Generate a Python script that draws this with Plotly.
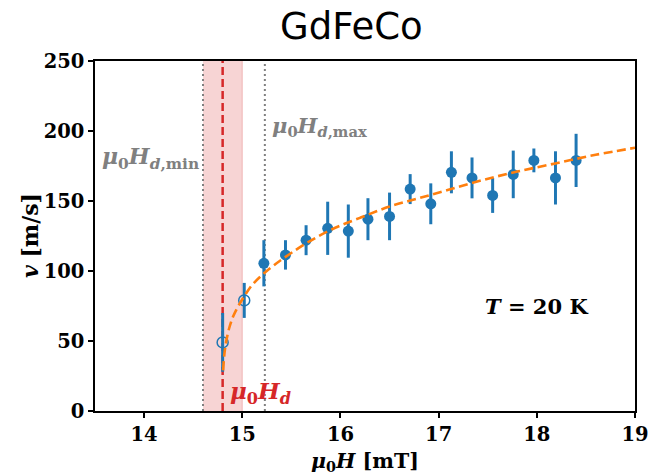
import plotly.graph_objects as go

# ---- data ----
h_filled = [15.22, 15.44, 15.65, 15.87, 16.08, 16.28, 16.50, 16.71, 16.92, 17.13,
            17.34, 17.55, 17.76, 17.97, 18.19, 18.40]
v_filled = [105.5, 111.5, 122.0, 130.5, 128.5, 137.0, 139.0, 158.5, 148.0, 170.5,
            166.5, 154.0, 169.0, 179.0, 166.5, 179.0]
e_filled = [16.5, 10.5, 10.7, 19.0, 19.0, 15.0, 17.0, 10.7, 14.6, 15.0,
            14.6, 12.5, 17.0, 8.5, 19.0, 19.0]

h_open = [14.80, 15.02]
v_open = [49.0, 79.0]
e_open = [21.0, 12.5]

fit_h = [14.805, 14.82, 14.84, 14.87, 14.91, 14.96, 15.02, 15.10, 15.20, 15.32, 15.48,
         15.68, 15.92, 16.20, 16.50, 16.80, 17.10, 17.45, 17.80, 18.20, 18.60, 19.00]
fit_v = [29, 42, 51, 60, 68, 75, 82, 90, 97, 104, 112,
         121, 130, 138, 146, 152, 158, 165, 171, 177, 183, 188]

hd = 14.8
hd_band = [14.6, 15.0]
hd_min = 14.6
hd_max = 15.23

x_ticks = [14, 15, 16, 17, 18, 19]
y_ticks = [0, 50, 100, 150, 200, 250]

BLUE = "#1f77b4"
ORANGE = "#ff7f0e"
RED = "#d62728"
GRAY = "#808080"
SERIF = "DejaVu Serif"

W, H = 648, 476
L, R, T, B = 95, 13, 61, 65
PW, PH = W - L - R, H - T - B

fig = go.Figure()

fig.add_trace(go.Scatter(
    x=h_filled, y=v_filled, mode="markers",
    marker=dict(color=BLUE, size=11),
    error_y=dict(type="data", array=e_filled, color=BLUE, thickness=3, width=0),
    showlegend=False))

fig.add_trace(go.Scatter(
    x=h_open, y=v_open, mode="markers",
    marker=dict(color=BLUE, size=11, symbol="circle-open", line=dict(width=1.5)),
    error_y=dict(type="data", array=e_open, color=BLUE, thickness=3, width=0),
    showlegend=False))

fig.add_trace(go.Scatter(
    x=fit_h, y=fit_v, mode="lines",
    line=dict(color=ORANGE, width=2.6, dash="9px,4.5px", shape="spline"),
    showlegend=False))

# band and vertical lines
fig.add_shape(type="rect", xref="x", yref="paper", x0=hd_band[0], x1=hd_band[1], y0=0, y1=1,
              fillcolor="rgba(214,39,40,0.2)", line=dict(width=0), layer="below")
fig.add_shape(type="line", xref="x", yref="paper", x0=hd_band[1], x1=hd_band[1], y0=0, y1=1,
              line=dict(color="rgba(214,39,40,0.25)", width=1), layer="below")
fig.add_shape(type="line", xref="x", yref="paper", x0=hd_min, x1=hd_min, y0=0, y1=1,
              line=dict(color=GRAY, width=2, dash="2px,3px"), layer="below")
fig.add_shape(type="line", xref="x", yref="paper", x0=hd_max, x1=hd_max, y0=0, y1=1,
              line=dict(color=GRAY, width=2, dash="2px,3px"), layer="below")
fig.add_shape(type="line", xref="x", yref="paper", x0=hd, x1=hd, y0=0, y1=1,
              line=dict(color=RED, width=2.5, dash="8px,4px"), layer="below")

# text labels
fig.add_annotation(x=14.575, y=181, xref="x", yref="y", xanchor="right", yanchor="middle",
                   text="<b><i>μ</i><sub>0</sub><i>H</i><sub><i>d</i>,min</sub></b>",
                   showarrow=False, font=dict(family=SERIF, size=22, color=GRAY))
fig.add_annotation(x=15.28, y=203, xref="x", yref="y", xanchor="left", yanchor="middle",
                   text="<b><i>μ</i><sub>0</sub><i>H</i><sub><i>d</i>,max</sub></b>",
                   showarrow=False, font=dict(family=SERIF, size=21, color=GRAY))
fig.add_annotation(x=14.85, y=13, xref="x", yref="y", xanchor="left", yanchor="middle",
                   text="<b><i>μ</i><sub>0</sub><i>H</i><sub><i>d</i></sub></b>",
                   showarrow=False, font=dict(family=SERIF, size=23, color=RED))
fig.add_annotation(x=18.0, y=75, xref="x", yref="y", xanchor="center", yanchor="middle",
                   text="<b><i>T</i> = 20 K</b>",
                   showarrow=False, font=dict(family=SERIF, size=21, color="black"))

# title
fig.add_annotation(x=(351 - L) / PW, y=(H - B - 27) / PH, xref="paper", yref="paper",
                   xanchor="center", yanchor="middle", text="GdFeCo", showarrow=False,
                   font=dict(family="DejaVu Sans", size=37, color="black"))

# axis titles
fig.add_annotation(x=0.5, y=-(462 - (H - B)) / PH, xref="paper", yref="paper",
                   xanchor="center", yanchor="middle",
                   text="<b><i>μ</i><sub>0</sub><i>H</i> [mT]</b>", showarrow=False,
                   font=dict(family=SERIF, size=20.5, color="black"))
fig.add_annotation(x=-(L - 30) / PW, y=0.5, xref="paper", yref="paper",
                   xanchor="center", yanchor="middle", textangle=-90,
                   text="<b><i>v</i> [m/s]</b>", showarrow=False,
                   font=dict(family=SERIF, size=22, color="black"))

axis_common = dict(showline=True, linecolor="black", linewidth=1.5, mirror=True,
                   ticks="outside", ticklen=5, tickwidth=1.5, tickcolor="black",
                   showgrid=False, zeroline=False, automargin=False,
                   ticklabeloverflow="allow",
                   tickfont=dict(family=SERIF, size=19.5, color="black"))

fig.update_layout(
    width=W, height=H,
    margin=dict(l=L, r=R, t=T, b=B, autoexpand=False),
    plot_bgcolor="white", paper_bgcolor="white",
    xaxis=dict(range=[13.5, 19], tickvals=x_ticks,
               ticktext=[f"<b>{t}</b>" for t in x_ticks], **axis_common),
    yaxis=dict(range=[0, 250], tickvals=y_ticks,
               ticktext=[f"<b>{t}</b>" for t in y_ticks], **axis_common),
)

fig.write_html("out.html")
